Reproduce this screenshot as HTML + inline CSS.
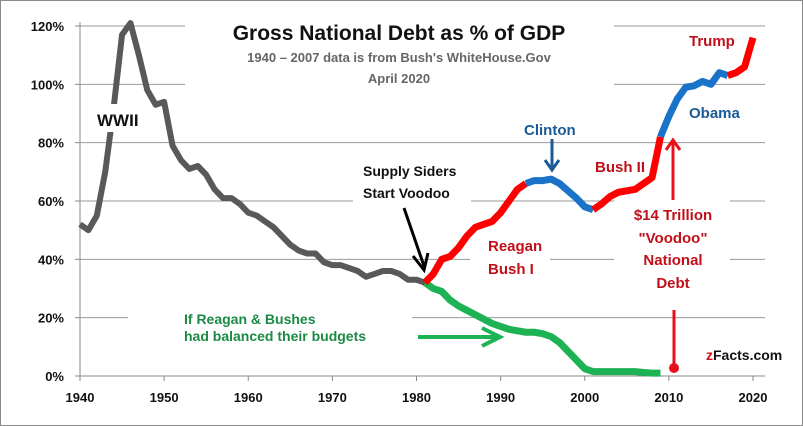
<!DOCTYPE html>
<html><head><meta charset="utf-8"><style>
html,body{margin:0;padding:0;background:#fff}
svg{display:block;font-family:"Liberation Sans",sans-serif}
</style></head><body>
<svg id="chart" width="803" height="426" viewBox="0 0 803 426">
<rect x="0.5" y="0.5" width="802" height="425" fill="#fff" stroke="#8a8a8a"/>
<g id="grid"></g>
<g id="masks"></g>
<g id="axes"></g>
<g id="series"></g>
<g id="annot"></g>
</svg>
<script>
const yearStart = 1940;
const grayVals = [52,50,55,70,92,117,121,110,98,93,94,79,74,71,72,69,64,61,61,59,56,55,53,51,48,45,43,42,42,39,38,38,37,36,34,35,36,36,35,33,33,32];
const reaganYears = [1981,1982,1983,1984,1985,1986,1987,1988,1989,1990,1991,1992,1993];
const reaganVals = [32,35,40,41,44,48,51,52,53,56,60,64,66];
const clintonYears = [1993,1994,1995,1996,1997,1998,1999,2000,2001];
const clintonVals = [66,67,67,67.5,66,63.5,61,58,57];
const bush2Years = [2001,2002,2003,2004,2005,2006,2007,2008,2009];
const bush2Vals = [57,59,61.5,63,63.5,64,66,68,82];
const obamaYears = [2009,2010,2011,2012,2013,2014,2015,2016,2017];
const obamaVals = [82,89,95,99,99.5,101,100,104,103];
const trumpYears = [2017,2018,2019,2020];
const trumpVals = [103,104,106,116];
const greenYears = [1981,1982,1983,1984,1985,1986,1987,1988,1989,1990,1991,1992,1993,1994,1995,1996,1997,1998,1999,2000,2001,2002,2003,2004,2005,2006,2007,2008,2009];
const greenVals = [32,30,29,26,24,22.5,21,19.5,18,17,16,15.5,15,15,14.5,13.5,11.5,8.5,5.5,2.5,1.5,1.5,1.5,1.5,1.5,1.5,1.2,1,1];
const yTicks = [0,20,40,60,80,100,120];
const xTicks = [1940,1950,1960,1970,1980,1990,2000,2010,2020];

const NS="http://www.w3.org/2000/svg";
const X=y=>80+(y-1940)*(753-80)/80;
const Y=v=>376-v*350/120;
function mk(tag,attrs,parent,text){const e=document.createElementNS(NS,tag);for(const k in attrs)e.setAttribute(k,attrs[k]);if(text!==undefined)e.textContent=text;document.getElementById(parent).appendChild(e);return e;}

yTicks.forEach(t=>{
  if(t>0){const g=mk('line',{x1:80,x2:765,y1:Y(t),y2:Y(t),stroke:'#9a9a9a','stroke-width':1},'grid');
  
  }
  const l=mk('text',{x:64,y:Y(t)+5,'text-anchor':'end','font-size':13,'font-weight':'bold',fill:'#111'},'axes',t+'%');
  
  
  const tk=mk('line',{x1:75,x2:80,y1:Y(t),y2:Y(t),stroke:'#888'},'axes');
  
  
});
[[185,10,429,86],[353,152,118,50],[614,195,116,96],[128,302,284,46],[470,228,80,50]].forEach(r=>{
  const m=mk('rect',{x:r[0],y:r[1],width:r[2],height:r[3],fill:'#fff'},'masks');
  
  
});
const ax=mk('line',{x1:80,x2:765,y1:376,y2:376,stroke:'#888'},'axes');


const ay=mk('line',{x1:80,x2:80,y1:22,y2:376,stroke:'#888'},'axes');


xTicks.forEach(t=>{
  const tk=mk('line',{x1:X(t),x2:X(t),y1:376,y2:381,stroke:'#888'},'axes');
  
  
  const l=mk('text',{x:X(t),y:402,'text-anchor':'middle','font-size':13,'font-weight':'bold',fill:'#111'},'axes',t);
  
  
});
function line(years,vals,color,name,w){
  const p=mk('polyline',{points:years.map((y,i)=>X(y)+','+Y(vals[i])).join(' '),fill:'none',stroke:color,'stroke-width':w||6,'stroke-linejoin':'round'},'series');
  
  
}
line(greenYears,greenVals,'#1db254','balanced-budget-line',7);
line(grayVals.map((v,i)=>yearStart+i),grayVals,'#595959','pre-1981-debt-line',6);
line(reaganYears,reaganVals,'#ff0000','reagan-bush-line',7);
line(clintonYears,clintonVals,'#1a73c8','clinton-line',7);
line(bush2Years,bush2Vals,'#ff0000','bush-ii-line',7);
line(obamaYears,obamaVals,'#1a73c8','obama-line',7);
line(trumpYears,trumpVals,'#ff0000','trump-line',7);
</script>
<script>
(function(){
const A=document.getElementById('annot');
A.innerHTML=`
<text x="399" y="40" text-anchor="middle" font-size="21" font-weight="bold" fill="#111">Gross National Debt  as % of GDP</text>
<text x="399" y="62" text-anchor="middle" font-size="13" font-weight="bold" fill="#666">1940 – 2007 data is from Bush's WhiteHouse.Gov</text>
<text x="399" y="83" text-anchor="middle" font-size="13" font-weight="bold" fill="#666">April 2020</text>
<rect x="94" y="104" width="50" height="28" fill="#fff"/>
<text x="97" y="126" font-size="17" font-weight="bold" fill="#111">WWII</text>
<text x="363" y="176" font-size="14" font-weight="bold" fill="#111">Supply Siders</text>
<text x="363" y="198" font-size="14" font-weight="bold" fill="#111">Start Voodoo</text>
<line x1="404" y1="208" x2="424" y2="266" stroke="#000" stroke-width="3"/>
<polyline points="413,256 424,270 428,253" fill="none" stroke="#000" stroke-width="3"/>
<text x="524" y="135" font-size="15" font-weight="bold" fill="#1a5a96">Clinton</text>
<line x1="552" y1="139" x2="552" y2="168" stroke="#1a5a96" stroke-width="3"/>
<polyline points="545,160 552,170 559,160" fill="none" stroke="#1a5a96" stroke-width="3"/>
<text x="488" y="251" font-size="15" font-weight="bold" fill="#c0101a">Reagan</text>
<text x="488" y="274" font-size="15" font-weight="bold" fill="#c0101a">Bush I</text>
<text x="595" y="172" font-size="15" font-weight="bold" fill="#c0101a">Bush II</text>
<text x="689" y="118" font-size="15" font-weight="bold" fill="#1a5a96">Obama</text>
<text x="689" y="46" font-size="15" font-weight="bold" fill="#c0101a">Trump</text>
<line x1="673" y1="200" x2="673" y2="142" stroke="#e8101a" stroke-width="3"/>
<polyline points="666,150 673,140 680,150" fill="none" stroke="#e8101a" stroke-width="3"/>
<g font-size="15" font-weight="bold" fill="#c0101a" text-anchor="middle">
<text x="673" y="220">$14 Trillion</text>
<text x="673" y="243">"Voodoo"</text>
<text x="673" y="265">National</text>
<text x="673" y="288">Debt</text>
</g>
<line x1="674" y1="310" x2="674" y2="364" stroke="#e8101a" stroke-width="3"/>
<circle cx="674" cy="368" r="5" fill="#e8101a"/>
<text x="184" y="324" font-size="14" font-weight="bold" fill="#1a8a44">If Reagan  &amp; Bushes</text>
<text x="184" y="341" font-size="14" font-weight="bold" fill="#1a8a44">had balanced  their budgets</text>
<line x1="418" y1="337" x2="498" y2="337" stroke="#1db254" stroke-width="4"/>
<polyline points="482,328 500,337 482,346" fill="none" stroke="#1db254" stroke-width="4"/>
<text x="706" y="360" font-size="14" font-weight="bold" fill="#111"><tspan fill="#d0101a">z</tspan>Facts.com</text>`;
})();
</script>
</body></html>
